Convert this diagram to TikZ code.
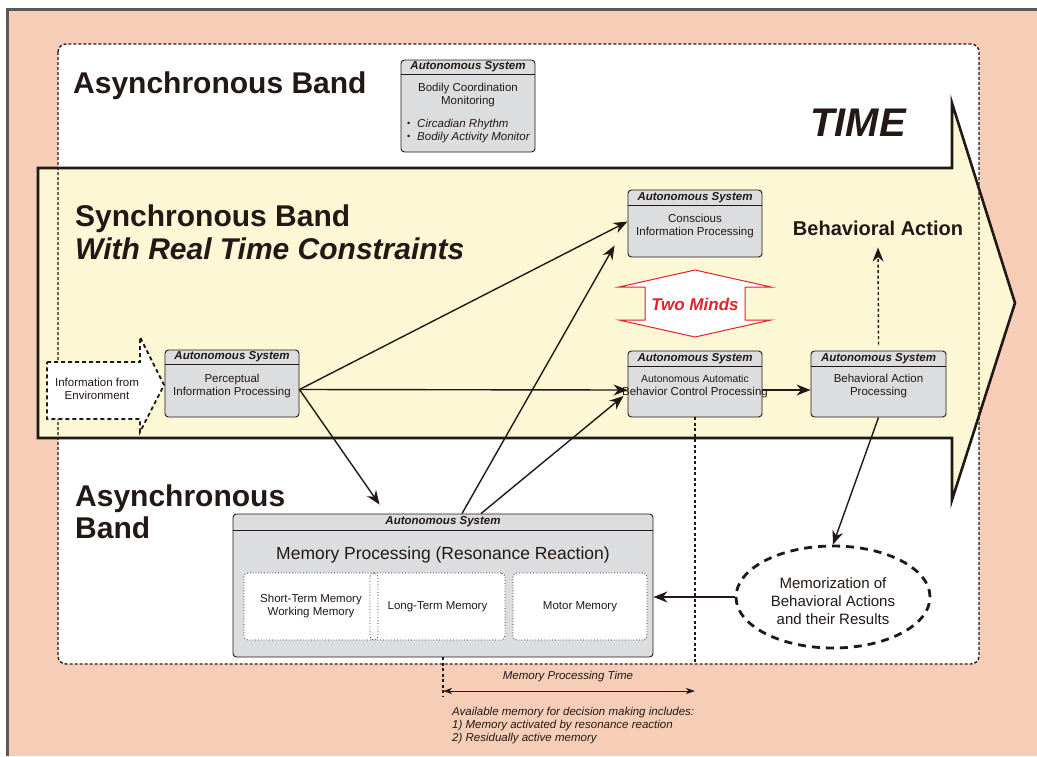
\documentclass[tikz,border=0pt]{standalone}
\usepackage{fontspec}
\setmainfont{Liberation Sans}
\usetikzlibrary{arrows.meta,calc,shapes.geometric}
\definecolor{salmon}{HTML}{F6CEB8}
\definecolor{bandyellow}{HTML}{FCF7D4}
\definecolor{boxgray}{HTML}{DCDDDE}
\definecolor{framegray}{HTML}{5A5858}
\definecolor{ink}{HTML}{231815}
\definecolor{mindred}{HTML}{E3212B}
\newcommand\setfs[2]{\fontsize{#1}{#2}\selectfont}
\newcommand\mybul{\makebox[10pt][l]{\upshape\raisebox{0.3pt}{\scalebox{0.8}{\textbullet}}}}
\tikzset{
  asys/.style={draw=ink, line width=0.9pt, fill=boxgray, rounded corners=3.5pt, inner sep=0pt},
  hdrtext/.style={font=\setfs{11.5}{13}\bfseries\itshape, text=ink, inner sep=0pt},
  bodytext/.style={font=\setfs{11.5}{13}, text=ink, align=center, inner sep=0pt},
  bigtitle/.style={font=\setfs{30}{34}\bfseries, text=ink, inner sep=0pt, anchor=base west},
  tip/.tip={Stealth[length=14pt,width=11pt,inset=4.5pt]},
  smalltip/.tip={Stealth[length=9pt,width=6pt,inset=2.5pt]},
  conn/.style={draw=ink, line width=1.4pt, -tip},
  guide/.style={draw=ink, line width=1.1pt, dash pattern=on 3pt off 2.5pt},
  subbox/.style={draw=ink, line width=0.8pt, dotted, rounded corners=4pt, inner sep=0pt,
    minimum height=67pt, font=\setfs{11.5}{13}, text=ink, align=center},
}
\newcommand\asysbox[8]{%
  \node[asys, minimum width={(#4-#2)*1pt}, minimum height={(#5-#3)*1pt}] (#1) at ({(#2+#4)/2},{(#3+#5)/2}) {};
  \draw[ink, line width=0.9pt] ($(#1.north west)+(0,#6)$) -- ($(#1.north east)+(0,#6)$);
  \node[hdrtext] (#1-h) at ($(#1.north)+(0,#6/2)$) {Autonomous System};
  \node[bodytext] (#1-b) at ($(#1.north)+(0,#6+#7)$) {#8};
}
\begin{document}
\begin{tikzpicture}[x=1pt,y=-1pt]
\useasboundingbox (0,0) rectangle (1037,756);
\fill[white] (0,0) rectangle (1037,756);
\fill[salmon] (7.5,9.5) rectangle (1037,756);
\draw[framegray, line width=3pt] (1037,9.5) -- (7.5,9.5) -- (7.5,756);
% white asynchronous region
\fill[white, rounded corners=8pt] (58,44) rectangle (979,664);
% big time arrow
\filldraw[fill=bandyellow, draw=ink, line width=2.6pt, line join=miter]
  (38,168) -- (952,168) -- (952,103) -- (1015,303) -- (952,500) -- (952,438) -- (38,438) -- cycle;
\draw[ink, line width=1.4pt, dash pattern=on 3pt off 2pt, rounded corners=8pt] (58,44) rectangle (979,664);

% titles
\node[bigtitle] (ab1) at (73,93) {Asynchronous Band};
\node[bigtitle] (sb1) at (75,226) {Synchronous Band};
\node[bigtitle, font=\setfs{30}{34}\bfseries\itshape] (sb2) at (75,259) {With Real Time Constraints};
\node[bigtitle] (ab2) at (75,506) {Asynchronous};
\node[bigtitle] (ab3) at (75,538) {Band};
\node[font=\setfs{40}{44}\bfseries\itshape, text=ink, inner sep=0pt, anchor=base] (time) at (858,136) {TIME};
\node[font=\setfs{20}{24}\bfseries, text=ink, inner sep=0pt] (ba) at (878,228) {Behavioral Action};

% information from environment
\filldraw[fill=white, draw=ink, line width=1.8pt, dash pattern=on 4pt off 3pt, line join=miter]
  (47,362) -- (140,362) -- (140,337) -- (164,385) -- (140,432) -- (140,419) -- (47,419) -- cycle;
\node[bodytext] (info) at (97,389) {Information from\\Environment};

% autonomous system boxes
\asysbox{bod}{401}{60}{535}{152}{14.5}{21}{Bodily Coordination\\Monitoring}
\node[bodytext, align=left, anchor=north west, font=\setfs{11.5}{13}\itshape] (bod-l) at (407,118.5)
  {\mybul Circadian Rhythm\\\mybul Bodily Activity Monitor};
\asysbox{perc}{165}{350}{299}{417}{15}{21}{Perceptual\\Information Processing}
\asysbox{cons}{628}{190}{762}{257}{16}{20}{Conscious\\Information Processing}
\asysbox{auto}{628}{351}{762}{417}{16}{19.5}{\setfs{10.4}{12.5}Autonomous Automatic\\Behavior Control Processing}
\asysbox{beh}{811}{351}{946}{417}{16}{19.5}{Behavioral Action\\Processing}
\asysbox{mem}{233}{514}{653}{657}{17}{24}{\setfs{17.5}{20}Memory Processing (Resonance Reaction)}

% memory sub boxes
\fill[white, rounded corners=4pt] (244,573) rectangle (505,640);
\fill[white, rounded corners=4pt] (513,573) rectangle (647,640);
\node[subbox, minimum width=134pt] (stm) at (311,606.5) {Short-Term Memory\\Working Memory};
\node[subbox, minimum width=135pt] (ltm) at (437.5,606.5) {Long-Term Memory};
\node[subbox, minimum width=134pt] (mtm) at (580,606.5) {Motor Memory};

% two minds
\filldraw[fill=white, draw=mindred, line width=1pt, line join=miter]
  (695,270) -- (771,287) -- (745,287) -- (745,320) -- (771,320) -- (695,337)
  -- (619,320) -- (645,320) -- (645,287) -- (619,287) -- cycle;
\node[font=\setfs{17}{20}\bfseries\itshape, text=mindred, inner sep=0pt] (two) at (695,304) {Two Minds};

% memorization ellipse
\node[ellipse, draw=ink, line width=2.8pt, dash pattern=on 8pt off 6pt, fill=white,
  minimum width=194pt, minimum height=102pt, inner sep=0pt] (memz) at (833,597) {};
\node[font=\setfs{15}{18}, text=ink, align=center, inner sep=0pt] (memz-t) at (833,601)
  {Memorization of\\Behavioral Actions\\and their Results};

% connectors
\coordinate (ps) at ($(perc.east)+(0,6)$);
\draw[conn] (ps) -- ($(cons.west)+(0,-2)$);
\draw[conn] (ps) -- ($(auto.west)+(0,6)$);
\draw[conn] (ps) -- ($(mem.north west)+(147,-9)$);
\draw[conn] ($(mem.north)+(19,0)$) -- ($(cons.south west)+(-13,-12)$);
\draw[conn] ($(mem.north)+(38,0)$) -- ($(auto.west)+(-4,12)$);
\draw[conn] ($(auto.east)+(0,6)$) -- ($(beh.west)+(0,6)$);
\draw[conn] (beh.south) -- (memz.north);
\draw[conn] (memz.west) -- (mem.east |- memz.west);
\draw[conn, dash pattern=on 3pt off 2.5pt] ($(beh.north)+(0,-6)$) -- ($(ba.south)+(0,12)$);

% time guides
\draw[guide] (auto.south) -- (auto.south |- 0,664);
\draw[guide] (mem.south) -- (mem.south |- 0,697);
\coordinate (mpt1) at (mem.south |- 0,691);
\coordinate (mpt2) at (auto.south |- 0,691);
\draw[ink, line width=0.9pt, smalltip-smalltip] (mpt1) -- (mpt2);
\node[font=\setfs{11.5}{13}\itshape, text=ink, inner sep=0pt] (mpt) at (568,677) {Memory Processing Time};
\node[font=\setfs{11.5}{13}\itshape, text=ink, align=left, anchor=north west, inner sep=0pt] (avail) at (452,706.5)
  {Available memory for decision making includes:\\1) Memory activated by resonance reaction\\2) Residually active memory};
\end{tikzpicture}
\end{document}
